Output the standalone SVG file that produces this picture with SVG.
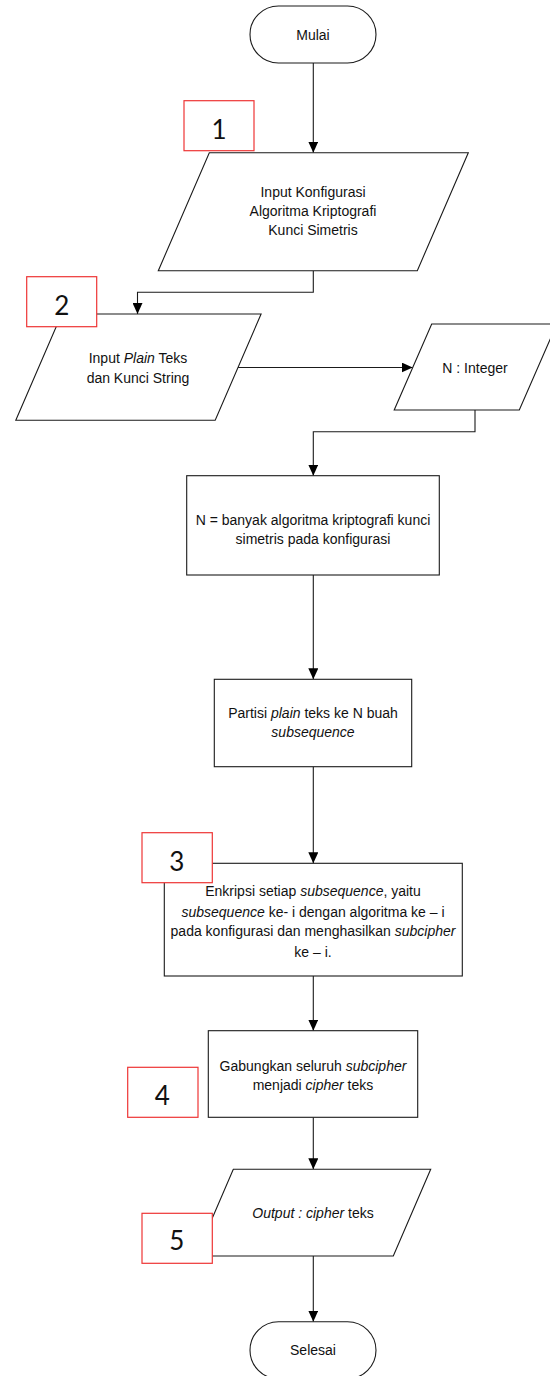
<svg xmlns="http://www.w3.org/2000/svg" width="550" height="1376" viewBox="0 0 550 1376">
  <style>
    .shape { fill: #ffffff; stroke: #1a1a1a; stroke-width: 1.1; }
    .tag { fill: #ffffff; stroke: #ee3535; stroke-width: 1.2; }
    .label { font-family: "Liberation Sans", Arial, sans-serif; font-size: 14px; fill: #111111; text-anchor: middle; }
    .num { font-family: Lato, "Liberation Sans", sans-serif; font-size: 26px; fill: #111111; text-anchor: middle; }
    .it { font-style: italic; }
    .edge { fill: none; stroke: #1a1a1a; stroke-width: 1.1; marker-end: url(#arrow); }
  </style>
  <defs>
    <marker id="arrow" markerUnits="userSpaceOnUse" markerWidth="11" markerHeight="10" refX="11" refY="5" orient="auto">
      <path d="M0,0 L11,5 L0,10 Z" fill="#000000"/>
    </marker>
  </defs>

  <rect width="550" height="1376" fill="#ffffff"/>

  <!-- connectors -->
  <g id="connectors">
    <path class="edge" d="M313.3,63 V152.7"/>
    <path class="edge" d="M313.3,270.7 V292.3 H137.5 V314"/>
    <path class="edge" d="M238,367.5 H412.7"/>
    <path class="edge" d="M475,410 V431.7 H313.3 V475.7"/>
    <path class="edge" d="M313.3,575 V679.3"/>
    <path class="edge" d="M313.3,766.7 V863.3"/>
    <path class="edge" d="M313.3,976 V1030.7"/>
    <path class="edge" d="M313.3,1117.3 V1169.3"/>
    <path class="edge" d="M313.3,1256 V1321.7"/>
  </g>

  <!-- start -->
  <g id="mulai">
    <rect class="shape" x="250" y="6" width="126" height="57" rx="28.5" ry="28.5"/>
    <text class="label" x="313" y="40">Mulai</text>
  </g>

  <!-- input configuration -->
  <g id="input-konfigurasi">
    <polygon class="shape" points="209.3,152.7 468.3,152.7 417.3,270.7 158.3,270.7"/>
    <text class="label" x="313" y="197">Input Konfigurasi</text>
    <text class="label" x="313" y="216">Algoritma Kriptografi</text>
    <text class="label" x="313" y="235">Kunci Simetris</text>
  </g>
  <g id="tag-1">
    <rect class="tag" x="184" y="100.7" width="70" height="50"/>
    <text class="num" x="219" y="139">1</text>
  </g>

  <!-- plain text and key -->
  <g id="input-plain">
    <polygon class="shape" points="61.7,314 261.1,314 215.2,420.3 15.8,420.3"/>
    <text class="label" x="138" y="363.3">Input <tspan class="it">Plain</tspan> Teks</text>
    <text class="label" x="138" y="382.7">dan Kunci String</text>
  </g>
  <g id="tag-2">
    <rect class="tag" x="26.7" y="276.7" width="70" height="50"/>
    <text class="num" x="61.7" y="315">2</text>
  </g>

  <!-- N declaration -->
  <g id="n-integer">
    <polygon class="shape" points="431.7,324 556.8,324 519.3,410 394.2,410"/>
    <text class="label" x="475" y="372.5">N : Integer</text>
  </g>

  <!-- N assignment -->
  <g id="n-assign">
    <rect class="shape" x="186.7" y="475.7" width="252.6" height="99.3"/>
    <text class="label" x="313" y="525">N = banyak algoritma kriptografi kunci</text>
    <text class="label" x="313" y="543.5">simetris pada konfigurasi</text>
  </g>

  <!-- partition -->
  <g id="partisi">
    <rect class="shape" x="214.3" y="679.3" width="197.4" height="87.4"/>
    <text class="label" x="313" y="717.5">Partisi <tspan class="it">plain</tspan> teks ke N buah</text>
    <text class="label it" x="313" y="736.5">subsequence</text>
  </g>

  <!-- encryption -->
  <g id="enkripsi">
    <rect class="shape" x="164.3" y="863.3" width="298" height="112.7"/>
    <text class="label" x="313" y="896">Enkripsi setiap <tspan class="it">subsequence</tspan>, yaitu</text>
    <text class="label" x="313" y="916.5"><tspan class="it">subsequence</tspan> ke- i dengan algoritma ke – i</text>
    <text class="label" x="313" y="936">pada konfigurasi dan menghasilkan <tspan class="it">subcipher</tspan></text>
    <text class="label" x="313" y="956.5">ke – i.</text>
  </g>
  <g id="tag-3">
    <rect class="tag" x="142" y="832.7" width="70.3" height="50"/>
    <text class="num" x="176.7" y="870.7">3</text>
  </g>

  <!-- merge -->
  <g id="gabungkan">
    <rect class="shape" x="208.3" y="1030.7" width="209.4" height="86.6"/>
    <text class="label" x="313" y="1071">Gabungkan seluruh <tspan class="it">subcipher</tspan></text>
    <text class="label" x="313" y="1089.5">menjadi <tspan class="it">cipher</tspan> teks</text>
  </g>
  <g id="tag-4">
    <rect class="tag" x="127.7" y="1067.3" width="70.3" height="50"/>
    <text class="num" x="162.3" y="1105">4</text>
  </g>

  <!-- output -->
  <g id="output">
    <polygon class="shape" points="233.3,1169.3 430.7,1169.3 393.3,1256 196,1256"/>
    <text class="label" x="313" y="1217.5"><tspan class="it">Output : cipher</tspan> teks</text>
  </g>
  <g id="tag-5">
    <rect class="tag" x="142" y="1213.3" width="70.3" height="50"/>
    <text class="num" x="176.7" y="1250">5</text>
  </g>

  <!-- end -->
  <g id="selesai">
    <rect class="shape" x="250" y="1321.7" width="126" height="57" rx="28.5" ry="28.5"/>
    <text class="label" x="313" y="1355">Selesai</text>
  </g>
</svg>
